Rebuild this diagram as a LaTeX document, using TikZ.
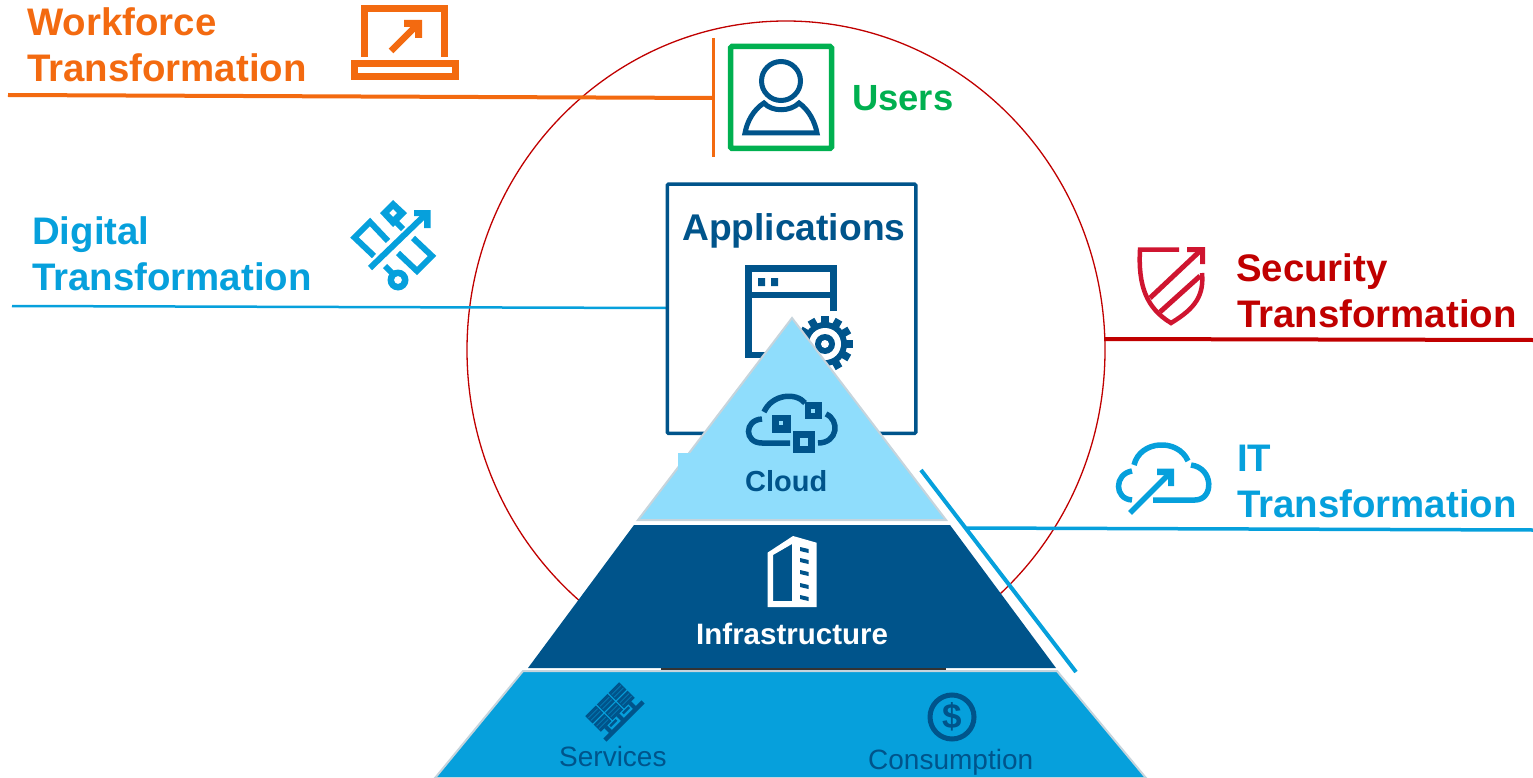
\documentclass[tikz,border=0pt]{standalone}
\usepackage{fontspec}
\usetikzlibrary{shapes.geometric}
\setmainfont{Liberation Sans}
\definecolor{orangeT}{HTML}{F36A10}
\definecolor{greenT}{HTML}{00B050}
\definecolor{redT}{HTML}{C00000}
\definecolor{redI}{HTML}{CF1530}
\definecolor{blueT}{HTML}{06A0DC}
\definecolor{navy}{HTML}{00548B}
\definecolor{sky}{HTML}{8FDDFC}
\definecolor{edgeG}{HTML}{C6D4DC}
\tikzset{
  x=1pt,y=-1pt,
  big/.style={anchor=base west,inner sep=0pt,font=\fontsize{38.4}{38.4}\selectfont\bfseries},
  icon/.style={line width=#1,line cap=butt,line join=miter},
  icon/.default=5.5,
  tier/.style={draw=edgeG,line width=2,line join=miter},
  mini/.style={anchor=base west,inner sep=0pt,font=\fontsize{28}{28}\selectfont,text=navy}
}
\begin{document}
\begin{tikzpicture}
\useasboundingbox (0,0) rectangle (1533,778);
% big ring
\node[ellipse,draw=redT,line width=1.3,minimum width=638,minimum height=658,inner sep=0pt] (ring) at (786,350) {};

% connector end points
\coordinate (wfA) at (8,95);
\coordinate (wfB) at (713,98);
\coordinate (barT) at (713,38);
\coordinate (barB) at (713,157);
\coordinate (dgA) at (12,306);
\coordinate (dgB) at (666,308);
\coordinate (secA) at (1105,339);
\coordinate (secB) at (1533,340);
\coordinate (itA) at (967,528);
\coordinate (itB) at (1533,530);
\coordinate (slA) at (921,470);
\coordinate (slB) at (1076,672);

\draw[orangeT,line width=4] (wfA) -- (wfB);
\draw[orangeT,line width=3] (barT) -- (barB);
\draw[blueT,line width=2.5] (dgA) -- (dgB);
\draw[redT,line width=4] (secA) -- (secB);

% labels
\node[big,text=orangeT] (wf1) at (27,35.5) {Workforce};
\node[big,text=orangeT] (wf2) at (27,81.5) {Transformation};
\node[big,text=blueT] (dg1) at (32,244) {Digital};
\node[big,text=blueT] (dg2) at (32,290) {Transformation};
\node[big,text=redT] (sc1) at (1236,281) {Security};
\node[big,text=redT] (sc2) at (1237,327) {Transformation};
\node[big,text=blueT] (it1) at (1237,471) {IT};
\node[big,text=blueT] (it2) at (1237,517) {Transformation};
\node[anchor=base west,inner sep=0pt,font=\fontsize{36.4}{36.4}\selectfont\bfseries,text=greenT] (users) at (852,110.5) {Users};

% laptop
\draw[orangeT,icon=7] (364.5,57) -- (364.5,8.5) -- (444.5,8.5) -- (444.5,57);
\draw[orangeT,icon=7] (354.5,63.5) rectangle (455.5,76.5);
\draw[orangeT,icon=6.5] (391,51) -- (418,24);
\fill[orangeT] (404,20) -- (422,20) -- (422,38) -- (415,38) -- (415,27) -- (404,27) -- cycle;

% users
\draw[greenT,line width=5.5,rounded corners=1.5] (730.5,46.5) rectangle (831.5,148.5);
\draw[navy,line width=5] (781,81) circle (19.5);
\draw[navy,line width=5,line join=miter] (764,103) .. controls (772,112) and (790,112) .. (799,103)
   .. controls (809,110) and (815,122) .. (817,133) -- (745,133)
   .. controls (747,122) and (753,110) .. (764,103) -- cycle;

% digital icon
\draw[blueT,icon=6] (370,268) -- (425,215);
\fill[blueT] (414,210) -- (430.5,210) -- (430.5,228) -- (424,228) -- (424,216) -- (414,216) -- cycle;
\draw[blueT,icon=6] (388,241) -- (370,222) -- (354.5,237.5) -- (374,256);
\draw[blueT,icon=6] (413,238) -- (432,256) -- (417,271) -- (398,253);
\fill[blueT,even odd rule] (393,200) -- (407,213) -- (393,227) -- (380,213) -- cycle
   (393,209) -- (397,213) -- (393,217) -- (389,213) -- cycle;
\draw[blueT,icon=6] (395,221) -- (403,229);
\fill[blueT,even odd rule] (398,280) circle (10.5) (398,280) circle (4);
\draw[blueT,icon=6] (385,266) -- (395,276);

% security shield
\draw[redI,icon=4.5] (1179,249.5) -- (1140,249.5) .. controls (1138,285) and (1146,308) .. (1171,323)
   .. controls (1196,308) and (1204,295) .. (1202,273);
\draw[redI,icon=5] (1150,298) -- (1200,251);
\fill[redI] (1187,247) -- (1205,247) -- (1205,264) -- (1200,264) -- (1200,252) -- (1187,252) -- cycle;
\draw[redI,icon=5] (1160,312) -- (1200,276);

% IT cloud
\draw[blueT,icon=5.5] (1134,465) .. controls (1140,440) and (1178,438) .. (1188,461);
\draw[blueT,icon=5.5] (1132,471) .. controls (1114,474) and (1114,499) .. (1132,500);
\draw[blueT,icon=5.5] (1191,465) .. controls (1214,468) and (1214,500) .. (1195,500) -- (1153,500);
\draw[blueT,icon=5.5] (1130,513) -- (1168,475);
\fill[blueT] (1157,468.5) -- (1174,468.5) -- (1174,486) -- (1168,486) -- (1168,475) -- (1157,475) -- cycle;

% applications
\node[draw=navy,line width=3.5,rounded corners=1,minimum width=248.5,minimum height=249,inner sep=0pt,anchor=north west] (apps) at (665.5,182.5) {};
\node[anchor=base west,inner sep=0pt,font=\fontsize{37.2}{37.2}\selectfont\bfseries,text=navy] (appsT) at (682,240) {Applications};

% window
\draw[navy,icon=6.5] (833.5,311) -- (833.5,268.5) -- (748.5,268.5) -- (748.5,355) -- (800,355);
\draw[navy,icon=6.5] (748,295) -- (834,295);
\fill[navy] (758,278) rectangle (765,286) (771,278) rectangle (778,286);
% gear
\begin{scope}[shift={(825,344)}]
  \fill[navy] (0,0) circle (22);
  \foreach \a in {0,30,...,330} \fill[navy,rotate=\a] (-3.8,-28) rectangle (3.8,-20);
  \fill[white] (0,0) circle (16);
  \fill[navy] (0,0) circle (10);
  \fill[white] (0,0) circle (4);
\end{scope}

% pyramid: cloud tier
\draw[tier,fill=sky] (792,318) -- (946,520) -- (638,520) -- cycle;
\fill[sky] (678,453) rectangle (692,472);
\draw[navy,icon=5.5] (764,412) .. controls (772,394) and (796,392) .. (805,403);
\draw[navy,icon=5.5] (762,419) .. controls (744,420) and (744,443) .. (762,443) -- (790,443);
\draw[navy,icon=5.5] (826,414) .. controls (840,420) and (838,443) .. (818,443);
\fill[navy] (772,415) rectangle (791,433);
\fill[sky] (779,421) rectangle (783,425);
\fill[navy] (805,402) rectangle (822,419);
\fill[sky] (811,409) rectangle (815,413);
\fill[navy] (793,431) rectangle (815,453);
\fill[sky] (800,438) rectangle (808,446);
\node[anchor=base west,inner sep=0pt,font=\fontsize{29}{29}\selectfont\bfseries,text=navy] (cloudT) at (745,491) {Cloud};

% pyramid: infrastructure tier
\fill[navy] (634,525) -- (950,525) -- (1056,668) -- (528,668) -- cycle;
\draw[black!80,line width=1.5] (661,669) -- (946,669);
\fill[white,even odd rule] (767.5,552.7) -- (793,536) -- (816.5,542.7) -- (816.5,607) -- (767.5,607) -- cycle
  (773,555) -- (792,544) -- (792,601) -- (773,601) -- cycle;
\foreach \y in {547,558,570,583,595}
  \fill[navy] (800,\y) -- (808.5,\y+2) -- (808.5,\y+6) -- (800,\y+4) -- cycle;
\node[anchor=base west,inner sep=0pt,font=\fontsize{29.5}{29.5}\selectfont\bfseries,text=white] (infraT) at (696,644) {Infrastructure};

% pyramid: base tier
\draw[tier,fill=blueT] (1057,671) -- (523,671) -- (435,778) -- (1146,778) -- cycle;
% services icon
\begin{scope}[shift={(610,707)},rotate=45]
  \foreach \u in {-24,-7.5,9} {
    \fill[navy] (\u,-11) rectangle (\u+15,-0.7);
    \fill[navy] (\u,0.7) rectangle (\u+15,11);
    \foreach \v in {-7.5,-4,4,7.5}
      \draw[blueT!55!navy,line width=0.6] (\u+1,\v) -- (\u+14,\v);
  }
  \fill[navy] (-27,17.5) rectangle (27,22);
  \foreach \u in {-17,0,17} \fill[navy] (\u-2,11) rectangle (\u+2,18);
  \foreach \u in {-9,9} \fill[navy] (\u-4.5,12.5) rectangle (\u+4.5,15);
\end{scope}
\node[mini] (servT) at (559,766) {Services};
% consumption icon
\node[draw=navy,line width=5,circle,minimum size=44,inner sep=0pt,font=\fontsize{35}{35}\selectfont\bfseries,text=navy] (dollar) at (952,717) {\$};
\node[mini] (consT) at (868,769) {Consumption};

% connectors above the pyramid
\draw[blueT,line width=3.5] (itA) -- (itB);
\draw[blueT,line width=4] (slA) -- (slB);
\end{tikzpicture}
\end{document}
